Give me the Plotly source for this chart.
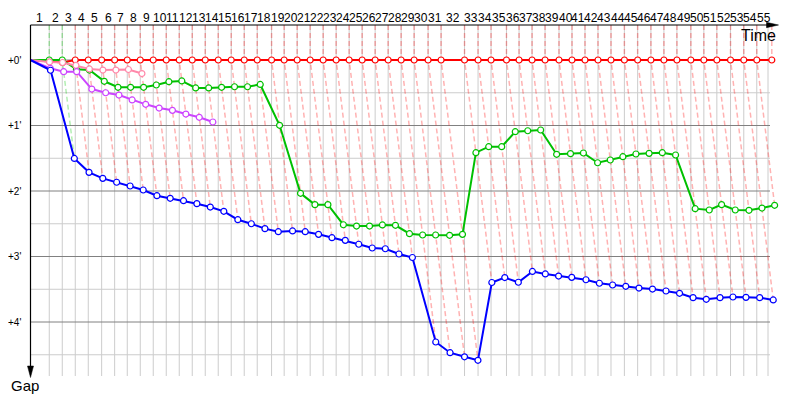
import plotly.graph_objects as go

# ---------------- data ----------------
LAPS = list(range(1, 56))
LAP_LABELS = [str(n) for n in LAPS]

# leader lap times (seconds)
LEADER_LAP_S = [140, 97, 97, 97, 100, 97, 94, 97, 97, 97,
                97, 97, 97, 97, 97, 97, 97, 107, 94, 97,
                97, 97, 97, 97, 97, 97, 97, 97, 97, 104,
                97, 175, 101, 97, 115, 94, 97, 97, 104, 97,
                97, 97, 97, 100, 99, 99, 97, 97, 104, 97,
                97, 102, 99, 97, 112]

# gap to leader at end of each lap (seconds)
RED_GAP = [1.2, 2.2] + [0.0] * 53
GREEN_GAP = [0, 0, 8.5, 9.2, 19.5, 25.0, 25.0, 25.0, 22.9, 19.9,
             19.2, 25.6, 25.6, 25.0, 24.5, 24.5, 22.4, 59.8, 122.1, 132.5,
             132.5, 150.9, 152.1, 152.1, 151.1, 151.4, 159.1, 160.3, 160.3, 160.6,
             159.7, 84.9, 79.4, 79.4, 65.7, 64.8, 64.1, 86.4, 85.8, 85.2,
             94.1, 91.6, 88.6, 86.1, 85.5, 84.9, 87.0, 136.2, 137.4, 132.5,
             137.4, 137.7, 135.6, 133.1]
BLUE_GAP = [9.4, 90.2, 102.9, 108.4, 112.0, 115.4, 119.1, 124.3, 126.7, 128.9,
            131.6, 134.7, 138.6, 146.3, 150.0, 154.5, 157.3, 156.6, 157.3, 159.7,
            162.8, 165.2, 168.8, 172.2, 172.9, 177.7, 180.9, 258.3, 268.1, 271.9,
            275.1, 203.8, 199.3, 203.6, 193.7, 196.0, 197.9, 199.1, 201.3, 204.5,
            206.1, 207.3, 208.9, 209.8, 211.6, 213.7, 217.7, 219.2, 217.7, 217.1,
            217.4, 217.7, 219.8]
PINK_GAP = [1.8, 2.3, 4.9, 8.2, 9.2, 9.2, 8.7, 12.4]
VIOLET_GAP = [7.6, 10.7, 10.7, 26.6, 30.0, 32.1, 36.6, 40.6, 44.0, 46.1,
              49.5, 52.5, 56.8]

GAP_TICKS_MIN = [0, 1, 2, 3, 4]
GAP_TICK_LABELS = ["+0'", "+1'", "+2'", "+3'", "+4'"]

SERIES = [
    ("red", RED_GAP, "#ff0000"),
    ("green", GREEN_GAP, "#00c000"),
    ("pink", PINK_GAP, "#ff88aa"),
    ("violet", VIOLET_GAP, "#cc44ff"),
    ("blue", BLUE_GAP, "#0000ff"),
]
LAP_LINE_COLORS = {"#ff0000": "rgba(255,0,0,0.3)", "#00c000": "rgba(0,200,0,0.3)"}

# ---------------- geometry (pixel <-> data) ----------------
W, H = 800, 400
PAGE_OFF = 8                     # default page margin around the figure
X0_PX, KX = 30.5, 0.134          # time 0 at x=30.5 px, px per second
Y0_PX, KY = 60.0, 65.5 / 60.0    # gap 0 at y=60 px, px per second
GRID_L, GRID_R, GRID_T, GRID_B = 30.5, 770.0, 25.0, 376.0
FONT = "Liberation Sans, Arial, sans-serif"


def px2x(p):
    return (p - X0_PX) / KX


def py2y(q):
    return (q - Y0_PX) / KY


cum = []
t = 0.0
for lt in LEADER_LAP_S:
    t += lt
    cum.append(t)

fig = go.Figure()
shapes = []
annotations = []

# vertical lap grid lines
for c in cum[:-1]:
    shapes.append(dict(type="line", xref="x", yref="y", x0=c, x1=c,
                       y0=py2y(GRID_T), y1=py2y(GRID_B),
                       line=dict(color="#cccccc", width=1), layer="below"))
shapes.append(dict(type="line", xref="x", yref="y", x0=px2x(768), x1=px2x(768),
                   y0=py2y(GRID_T), y1=py2y(GRID_B),
                   line=dict(color="#cccccc", width=1), layer="below"))
# horizontal gap grid lines (every 30 s)
for k in range(0, 10):
    g = k * 30
    major = (k % 2 == 0)
    shapes.append(dict(type="line", xref="x", yref="y", x0=px2x(GRID_L), x1=px2x(GRID_R),
                       y0=g, y1=g,
                       line=dict(color="#808080" if major else "#cccccc", width=1),
                       layer="below"))

# lap connection (dashed) lines
dash_x = {}
dash_y = {}
for i in range(len(LAPS)):
    pts = [(gaps[i], col) for _, gaps, col in SERIES if len(gaps) > i]
    lead_g, lead_col = min(pts, key=lambda p: p[0])
    last_g = max(p[0] for p in pts)
    xs = [cum[i] + lead_g, cum[i] + lead_g, cum[i] + last_g, None]
    ys = [py2y(GRID_T), lead_g, last_g, None]
    dash_x.setdefault(lead_col, []).extend(xs)
    dash_y.setdefault(lead_col, []).extend(ys)
for col in dash_x:
    fig.add_trace(go.Scatter(x=dash_x[col], y=dash_y[col], mode="lines",
                             line=dict(color=LAP_LINE_COLORS[col], width=1.5, dash="5px,3px"),
                             hoverinfo="skip", showlegend=False))

# driver gap lines
for name, gaps, col in SERIES:
    xs = [0.0] + [cum[i] + g for i, g in enumerate(gaps)]
    ys = [0.0] + list(gaps)
    op = [0] + [1] * len(gaps)
    fig.add_trace(go.Scatter(x=xs, y=ys, mode="lines+markers", name=name,
                             line=dict(color=col, width=2),
                             marker=dict(symbol="circle", size=6, color="white",
                                         opacity=op, line=dict(color=col, width=1.2)),
                             showlegend=False, cliponaxis=False))

# axes lines and arrows
shapes.append(dict(type="line", xref="x", yref="y", x0=px2x(GRID_L), x1=px2x(768),
                   y0=py2y(GRID_T), y1=py2y(GRID_T), line=dict(color="black", width=1.2)))
shapes.append(dict(type="path", xref="x", yref="y",
                   path="M {a},{b} L {c},{d} L {a},{e} Z".format(
                       a=px2x(766.5), b=py2y(22.3), c=px2x(778.5), d=py2y(25), e=py2y(27.7)),
                   fillcolor="black", line=dict(color="black", width=0.5)))
shapes.append(dict(type="line", xref="x", yref="y", x0=px2x(GRID_L), x1=px2x(GRID_L),
                   y0=py2y(GRID_T), y1=py2y(368), line=dict(color="black", width=1.2)))
shapes.append(dict(type="path", xref="x", yref="y",
                   path="M {a},{b} L {c},{d} L {e},{b} Z".format(
                       a=px2x(27.5), b=py2y(366), c=px2x(30.5), d=py2y(377.5), e=px2x(33.5)),
                   fillcolor="black", line=dict(color="black", width=0.5)))

# lap labels
prev = 0.0
for i, lab in enumerate(LAP_LABELS):
    annotations.append(dict(x=(prev + cum[i]) / 2, y=py2y(18), xref="x", yref="y",
                            text=lab, showarrow=False, xanchor="center", yanchor="middle",
                            font=dict(family=FONT, size=12, color="black"), borderpad=0))
    prev = cum[i]

# gap labels
for m, lab in zip(GAP_TICKS_MIN, GAP_TICK_LABELS):
    annotations.append(dict(x=px2x(22), y=m * 60, xref="x", yref="y", text=lab,
                            showarrow=False, xanchor="right", yanchor="middle",
                            font=dict(family=FONT, size=10, color="black"), borderpad=0))

annotations.append(dict(x=px2x(777), y=py2y(35), xref="x", yref="y", text="Time",
                        showarrow=False, xanchor="right", yanchor="middle",
                        font=dict(family=FONT, size=16, color="black"), borderpad=0))
annotations.append(dict(x=px2x(25), y=py2y(385), xref="x", yref="y", text="Gap",
                        showarrow=False, xanchor="center", yanchor="middle",
                        font=dict(family=FONT, size=15, color="black"), borderpad=0))

# the figure is drawn PAGE_OFF px inside the page; shift the view to compensate
fig.update_layout(
    width=W, height=H,
    margin=dict(l=0, r=0, t=0, b=0),
    paper_bgcolor="white", plot_bgcolor="white",
    xaxis=dict(range=[px2x(PAGE_OFF), px2x(W + PAGE_OFF)], visible=False, fixedrange=True),
    yaxis=dict(range=[py2y(H + PAGE_OFF), py2y(PAGE_OFF)], visible=False, fixedrange=True),
    shapes=shapes, annotations=annotations,
    showlegend=False, hovermode=False,
)

fig.write_html("out.html")
